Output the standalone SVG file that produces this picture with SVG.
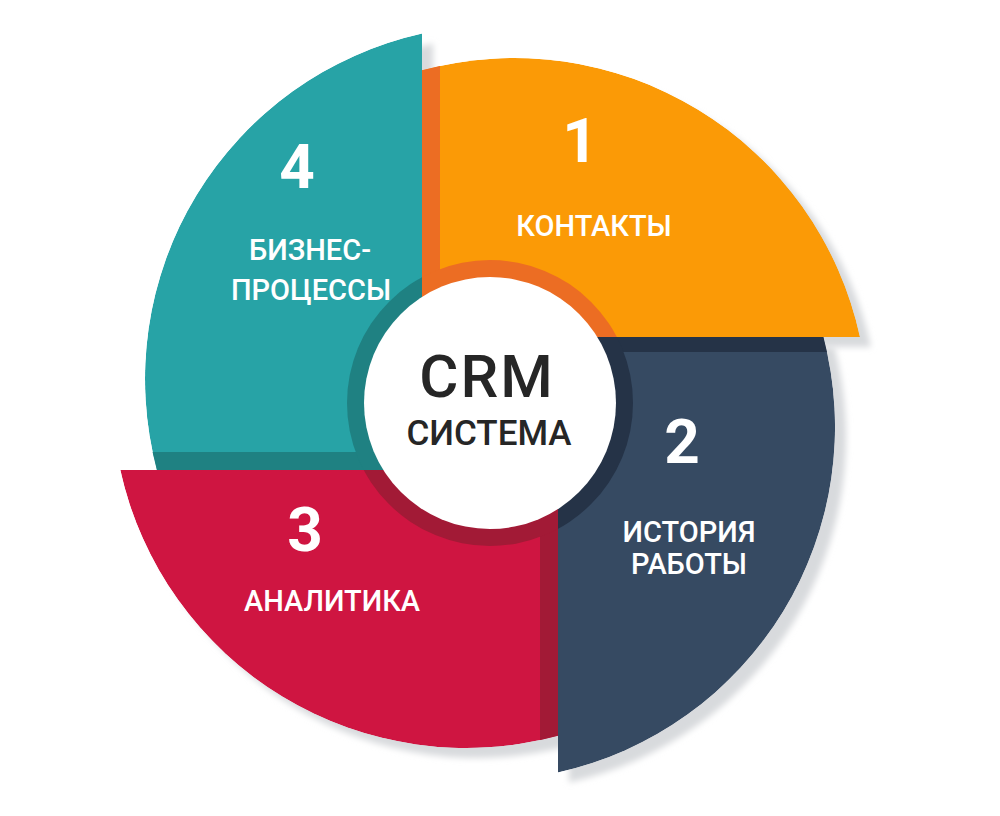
<svg xmlns="http://www.w3.org/2000/svg" width="1000" height="816" viewBox="0 0 1000 816">
<defs>
<style>
.num{font-family:Roboto,"Liberation Sans",sans-serif;font-weight:700;font-size:62px;fill:#fff;text-anchor:middle}
.lbl{font-family:Roboto,"Liberation Sans",sans-serif;font-weight:500;font-size:29px;fill:#fff;text-anchor:middle}
.ctr{font-family:Roboto,"Liberation Sans",sans-serif;font-weight:500;fill:#262626;text-anchor:middle}
.shadow{fill:#d8dadd;filter:url(#blur)}
</style>
<filter id="blur" x="-10%" y="-10%" width="120%" height="120%"><feGaussianBlur stdDeviation="3"/></filter>
<path id="p1" d="M422,337 L422,70.2 A354,354 0 0 1 860,337 Z"/>
<path id="p2" d="M558,337 L823.4,337 A354,354 0 0 1 558,772.5 Z"/>
<path id="p3" d="M558,470 L558,735.8 A354,354 0 0 1 120.3,470 Z"/>
<path id="p4" d="M422,470 L156.9,470 A354,354 0 0 1 422,33.5 Z"/>
<clipPath id="c1"><use href="#p1"/></clipPath>
<clipPath id="c2"><use href="#p2"/></clipPath>
<clipPath id="c3"><use href="#p3"/></clipPath>
<clipPath id="c4"><use href="#p4"/></clipPath>
</defs>
<rect width="1000" height="816" fill="#fff"/>
<g id="shadows">
<use href="#p1" class="shadow" transform="translate(11,10)"/>
<use href="#p2" class="shadow" transform="translate(11,10)"/>
<use href="#p3" class="shadow" transform="translate(11,10)"/>
<use href="#p4" class="shadow" transform="translate(11,10)"/>
</g>
<g id="seg1">
<g clip-path="url(#c1)">
<use href="#p1" fill="#FB9A06"/>
<rect x="422" y="0" width="18" height="337" fill="#EC6D23"/>
<circle cx="490" cy="403" r="143" fill="#EC6D23"/>
</g>
<text class="num" x="580" y="162">1</text>
<text class="lbl" x="594" y="236">КОНТАКТЫ</text>
</g>
<g id="seg2">
<g clip-path="url(#c2)">
<use href="#p2" fill="#364A62"/>
<rect x="558" y="337" width="442" height="15" fill="#253347"/>
<circle cx="490" cy="403" r="143" fill="#253347"/>
</g>
<text class="num" x="682" y="463">2</text>
<text class="lbl" x="689" y="542">ИСТОРИЯ</text>
<text class="lbl" x="689" y="574">РАБОТЫ</text>
</g>
<g id="seg3">
<g clip-path="url(#c3)">
<use href="#p3" fill="#CF1541"/>
<rect x="540" y="470" width="18" height="346" fill="#A21A36"/>
<circle cx="490" cy="403" r="143" fill="#A21A36"/>
</g>
<text class="num" x="305" y="551">3</text>
<text class="lbl" x="332" y="611">АНАЛИТИКА</text>
</g>
<g id="seg4">
<g clip-path="url(#c4)">
<use href="#p4" fill="#27A3A6"/>
<rect x="0" y="452" width="422" height="18" fill="#1F8182"/>
<circle cx="490" cy="403" r="143" fill="#1F8182"/>
</g>
<text class="num" x="297" y="188">4</text>
<text class="lbl" x="310" y="260">БИЗНЕС-</text>
<text class="lbl" x="311" y="300">ПРОЦЕССЫ</text>
</g>
<g id="center">
<circle cx="490" cy="403" r="126" fill="#fff"/>
<text class="ctr" x="487" y="397" font-size="60" letter-spacing="2">CRM</text>
<text class="ctr" x="489" y="445" font-size="35">СИСТЕМА</text>
</g>
<g id="connectors"/>
</svg>
